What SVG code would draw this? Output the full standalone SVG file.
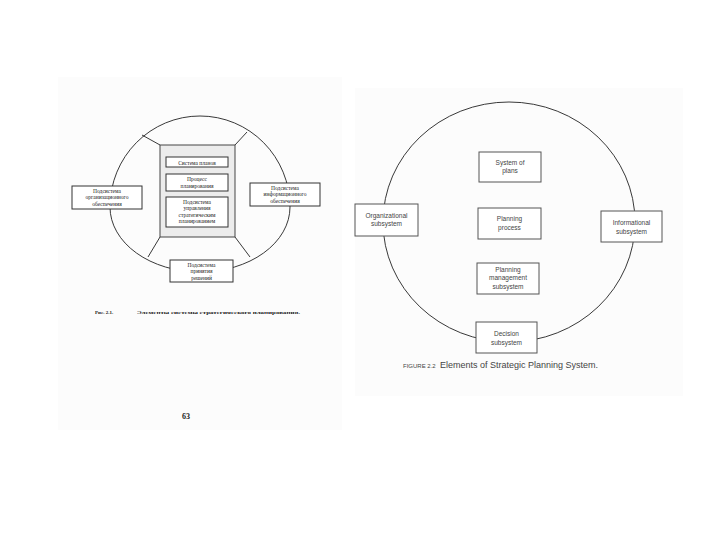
<svg xmlns="http://www.w3.org/2000/svg" width="720" height="540" viewBox="0 0 720 540">
<style>
.ru{font-family:"Liberation Serif","DejaVu Serif",serif;fill:#222;text-anchor:middle}
.en{font-family:"Liberation Sans","DejaVu Sans",sans-serif;fill:#444;text-anchor:middle}
.st{text-anchor:start}
.box{fill:#fff;stroke:#333;stroke-width:1}
.ebox{fill:#fff;stroke:#555;stroke-width:1}
.ln{fill:none;stroke:#222;stroke-width:0.9}
</style>
<rect width="720" height="540" fill="#fff"/>
<rect x="58" y="77" width="284" height="353" fill="#fcfcfc"/>
<rect x="355" y="88" width="328" height="308" fill="#fcfcfc"/>

<g id="connectors">
  <path class="ln" d="M110,207 A90,91 0 0 1 290,207 A90,65 0 0 1 200,272 A90,65 0 0 1 110,207 Z"/>
  <line class="ln" x1="160" y1="145" x2="142" y2="135"/>
  <line class="ln" x1="235" y1="145" x2="247" y2="132"/>
  <line class="ln" x1="160" y1="237" x2="148" y2="257"/>
  <line class="ln" x1="235" y1="237" x2="250" y2="257"/>
  <ellipse class="ln" cx="509" cy="222" rx="126" ry="120" stroke="#333"/>
</g>

<g id="ru-center">
  <rect x="160" y="145" width="75" height="92" fill="#ececec" stroke="#444" stroke-width="1"/>
</g>
<g id="ru-plans">
  <rect class="box" x="166" y="157" width="62" height="10"/>
  <text class="ru" x="197" y="164.5" font-size="5.5">Система планов</text>
</g>
<g id="ru-process">
  <rect class="box" x="166" y="174" width="62" height="17"/>
  <text class="ru" x="197" y="181" font-size="5.5">Процесс</text>
  <text class="ru" x="197" y="188" font-size="5.5">планирования</text>
</g>
<g id="ru-management">
  <rect class="box" x="166" y="197" width="62" height="30"/>
  <text class="ru" x="197" y="203.5" font-size="5.5">Подсистема</text>
  <text class="ru" x="197" y="210" font-size="5.5">управления</text>
  <text class="ru" x="197" y="216.5" font-size="5.5">стратегическим</text>
  <text class="ru" x="197" y="223" font-size="5.5">планированием</text>
</g>
<g id="ru-org">
  <rect class="box" x="72" y="186" width="70" height="23"/>
  <text class="ru" x="107" y="192.5" font-size="5.5">Подсистема</text>
  <text class="ru" x="107" y="199" font-size="5.5">организационного</text>
  <text class="ru" x="107" y="205.5" font-size="5.5">обеспечения</text>
</g>
<g id="ru-info">
  <rect class="box" x="250" y="183" width="70" height="23"/>
  <text class="ru" x="285" y="189.5" font-size="5.5">Подсистема</text>
  <text class="ru" x="285" y="196" font-size="5.5">информационного</text>
  <text class="ru" x="285" y="202.5" font-size="5.5">обеспечения</text>
</g>
<g id="ru-decision">
  <rect class="box" x="170" y="260" width="63" height="22"/>
  <text class="ru" x="201.5" y="266.5" font-size="5.5">Подсистема</text>
  <text class="ru" x="201.5" y="273" font-size="5.5">принятия</text>
  <text class="ru" x="201.5" y="279.5" font-size="5.5">решений</text>
</g>
<g id="ru-caption">
  <text class="ru st" x="95" y="314" font-size="5" font-weight="bold">Рис. 2.1.</text>
  <text class="ru st" x="137" y="314" font-size="5" font-weight="bold" textLength="163" lengthAdjust="spacingAndGlyphs">Элементы системы стратегического планирования.</text>
  <text class="ru" x="186" y="419" font-size="8" font-weight="bold">63</text>
</g>

<g id="en-plans">
  <rect class="ebox" x="479" y="152" width="62" height="30"/>
  <text class="en" x="510" y="165" font-size="6.5">System of</text>
  <text class="en" x="510" y="173" font-size="6.5">plans</text>
</g>
<g id="en-process">
  <rect class="ebox" x="478" y="208" width="63" height="31"/>
  <text class="en" x="509.5" y="221" font-size="6.5">Planning</text>
  <text class="en" x="509.5" y="230" font-size="6.5">process</text>
</g>
<g id="en-management">
  <rect class="ebox" x="477" y="263" width="62" height="31"/>
  <text class="en" x="508" y="272" font-size="6.5">Planning</text>
  <text class="en" x="508" y="280" font-size="6.5">management</text>
  <text class="en" x="508" y="289" font-size="6.5">subsystem</text>
</g>
<g id="en-org">
  <rect class="ebox" x="355" y="204" width="63" height="32"/>
  <text class="en" x="386.5" y="218" font-size="6.5">Organizational</text>
  <text class="en" x="386.5" y="226" font-size="6.5">subsystem</text>
</g>
<g id="en-info">
  <rect class="ebox" x="601" y="211" width="61" height="31"/>
  <text class="en" x="631.5" y="225" font-size="6.5">Informational</text>
  <text class="en" x="631.5" y="234" font-size="6.5">subsystem</text>
</g>
<g id="en-decision">
  <rect class="ebox" x="476" y="322" width="61" height="31"/>
  <text class="en" x="506.5" y="336" font-size="6.5">Decision</text>
  <text class="en" x="506.5" y="345" font-size="6.5">subsystem</text>
</g>
<g id="en-caption">
  <text class="en st" x="403" y="368" font-size="6">FIGURE 2.2</text>
  <text class="en st" x="440" y="368" font-size="9">Elements of Strategic Planning System.</text>
</g>
</svg>
